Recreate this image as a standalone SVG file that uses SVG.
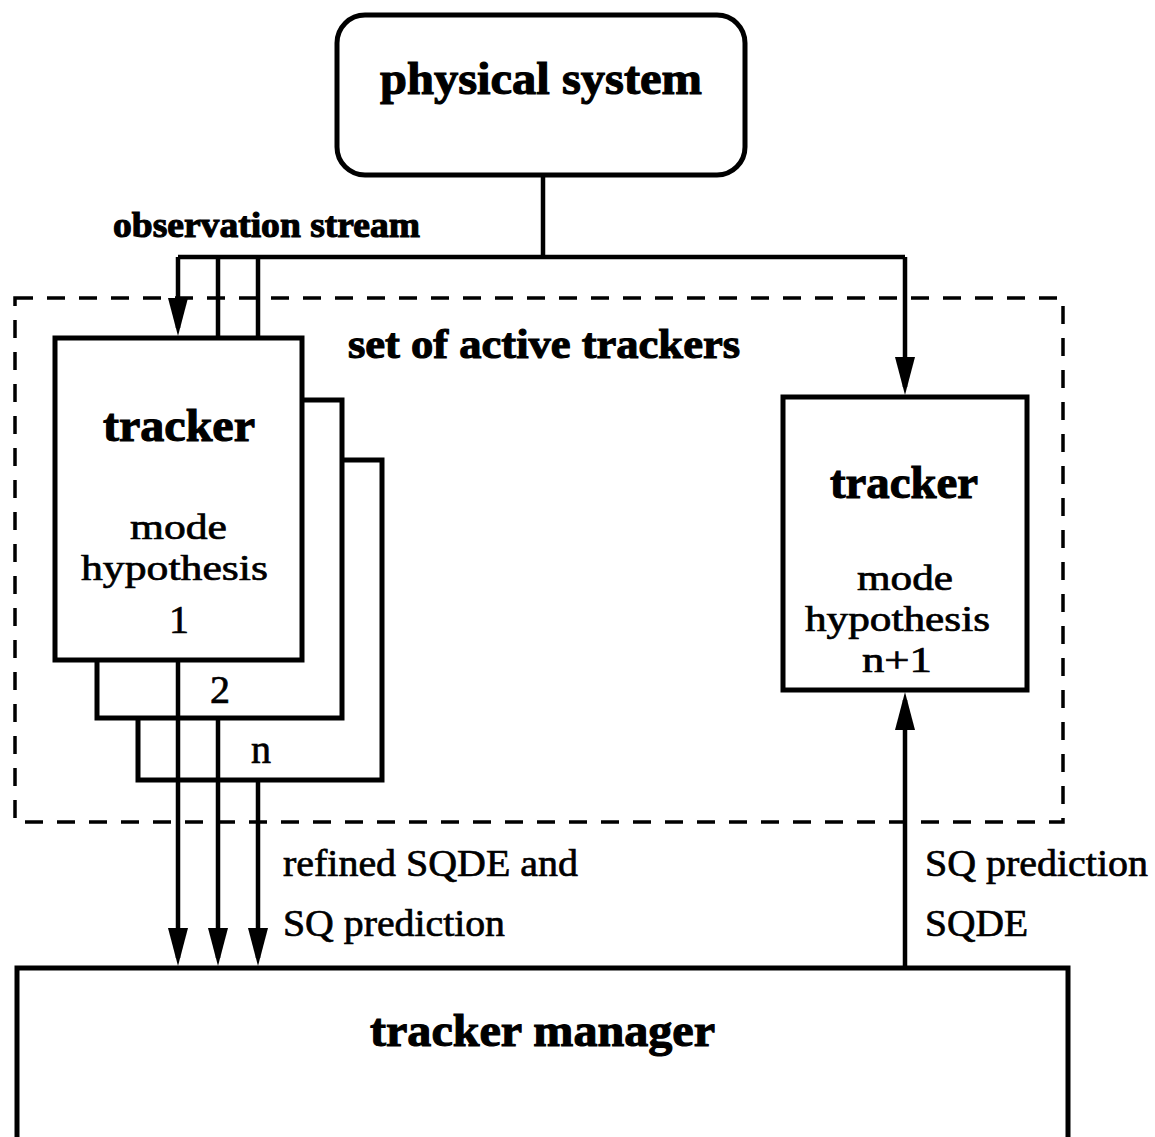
<svg xmlns="http://www.w3.org/2000/svg" width="1155" height="1137" viewBox="0 0 1155 1137">
  <style>
    .box { fill: #fff; stroke: #000; stroke-width: 5; }
    .wire { fill: none; stroke: #000; stroke-width: 4.5; }
    .group { fill: none; stroke: #000; stroke-width: 3.5; stroke-dasharray: 18 14; }
    .t { font-family: "Liberation Serif", "Times New Roman", serif; fill: #000; stroke: #000; stroke-width: 0.7; }
    .b { font-weight: bold; stroke-width: 1.1; }
    .c { text-anchor: middle; }
  </style>
  <defs>
    <marker id="head" markerUnits="userSpaceOnUse" viewBox="0 0 38 20" refX="30" refY="10" markerWidth="38" markerHeight="20" orient="auto">
      <path d="M0,0 L38,10 L0,20 Z" fill="#000"/>
    </marker>
  </defs>

  <rect width="1155" height="1137" fill="#fff"/>

  <!-- dashed boundary: set of active trackers -->
  <g id="active-set">
    <rect class="group" x="15" y="298" width="1048" height="524"/>
    <text class="t b" x="348" y="358" font-size="42" textLength="392" lengthAdjust="spacingAndGlyphs">set of active trackers</text>
  </g>

  <g id="physical-system">
    <rect class="box" x="337" y="15" width="408" height="160" rx="28"/>
    <text class="t b" x="380" y="94" font-size="46" textLength="322" lengthAdjust="spacingAndGlyphs">physical system</text>
  </g>

  <!-- stacked trackers 1..n -->
  <g id="tracker-n">
    <rect class="box" x="138" y="460" width="244" height="320"/>
    <text class="t c" x="261" y="763" font-size="40">n</text>
  </g>
  <g id="tracker-2">
    <rect class="box" x="97" y="400" width="245" height="318"/>
    <text class="t c" x="220" y="703" font-size="40">2</text>
  </g>
  <g id="tracker-1">
    <rect class="box" x="55" y="338" width="247" height="322"/>
    <text class="t b" x="103" y="441" font-size="46" textLength="152" lengthAdjust="spacingAndGlyphs">tracker</text>
    <text class="t" x="130" y="539" font-size="36" textLength="97" lengthAdjust="spacingAndGlyphs">mode</text>
    <text class="t" x="81" y="580" font-size="36" textLength="187" lengthAdjust="spacingAndGlyphs">hypothesis</text>
    <text class="t c" x="179" y="633" font-size="40">1</text>
  </g>

  <g id="tracker-n1">
    <rect class="box" x="783" y="397" width="244" height="293"/>
    <text class="t b" x="830" y="498" font-size="46" textLength="148" lengthAdjust="spacingAndGlyphs">tracker</text>
    <text class="t" x="857" y="590" font-size="35" textLength="96" lengthAdjust="spacingAndGlyphs">mode</text>
    <text class="t" x="805" y="631" font-size="35" textLength="185" lengthAdjust="spacingAndGlyphs">hypothesis</text>
    <text class="t" x="862" y="672" font-size="35" textLength="70" lengthAdjust="spacingAndGlyphs">n+1</text>
  </g>

  <g id="tracker-manager">
    <rect class="box" x="17" y="968" width="1051" height="190"/>
    <text class="t b" x="370" y="1046" font-size="46" textLength="345" lengthAdjust="spacingAndGlyphs">tracker manager</text>
  </g>

  <g id="connectors">
    <!-- observation stream -->
    <path class="wire" d="M543,175 V257"/>
    <path class="wire" d="M178,257 H905"/>
    <path class="wire" d="M178,257 V328" marker-end="url(#head)"/>
    <path class="wire" d="M218,257 V338"/>
    <path class="wire" d="M258,257 V338"/>
    <path class="wire" d="M905,257 V387" marker-end="url(#head)"/>
    <!-- refined estimates to manager -->
    <path class="wire" d="M178,660 V958" marker-end="url(#head)"/>
    <path class="wire" d="M218,718 V958" marker-end="url(#head)"/>
    <path class="wire" d="M258,780 V958" marker-end="url(#head)"/>
    <!-- manager to new tracker -->
    <path class="wire" d="M905,968 V700" marker-end="url(#head)"/>
  </g>

  <g id="labels">
    <text class="t b" x="113" y="237" font-size="36" textLength="307" lengthAdjust="spacingAndGlyphs">observation stream</text>
    <text class="t" x="283" y="876" font-size="38" textLength="295" lengthAdjust="spacingAndGlyphs">refined SQDE and</text>
    <text class="t" x="283" y="936" font-size="38" textLength="222" lengthAdjust="spacingAndGlyphs">SQ prediction</text>
    <text class="t" x="925" y="876" font-size="38" textLength="223" lengthAdjust="spacingAndGlyphs">SQ prediction</text>
    <text class="t" x="925" y="936" font-size="38" textLength="103" lengthAdjust="spacingAndGlyphs">SQDE</text>
  </g>
</svg>
